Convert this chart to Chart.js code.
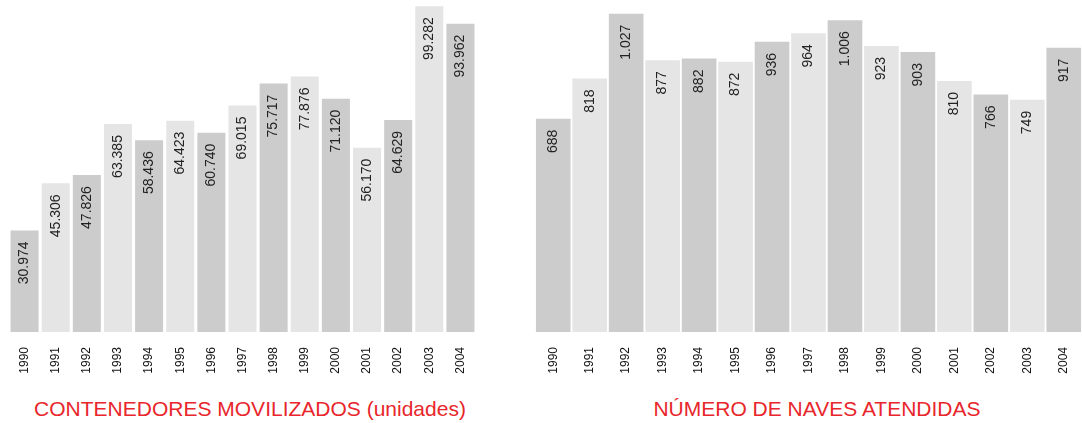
<!DOCTYPE html>
<html>
<head>
<meta charset="utf-8">
<script src="https://cdn.jsdelivr.net/npm/chart.js@4/dist/chart.umd.min.js"></script>
<style>
  html, body { margin: 0; padding: 0; background: #ffffff; overflow: hidden; width: 1082px; height: 423px; }
  .box { position: absolute; top: 0; }
  .title { position: absolute; top: 398px; height: 21px; line-height: 21px; font-family: "Liberation Sans", Arial, sans-serif; font-size: 21px; color: #e8262b; text-align: center; white-space: nowrap; }
</style>
</head>
<body>
<div class="box" style="left:9px;width:467px;height:392px;"><canvas id="c1"></canvas></div>
<div class="box" style="left:535px;width:547px;height:392px;"><canvas id="c2"></canvas></div>
<div class="title" style="left:0px;width:500px;">CONTENEDORES MOVILIZADOS (unidades)</div>
<div class="title" style="left:617px;width:400px;">NÚMERO DE NAVES ATENDIDAS</div>
<script>
const years = ["1990","1991","1992","1993","1994","1995","1996","1997","1998","1999","2000","2001","2002","2003","2004"];
const containers = [30974, 45306, 47826, 63385, 58436, 64423, 60740, 69015, 75717, 77876, 71120, 56170, 64629, 99282, 93962];
const ships = [688, 818, 1027, 877, 882, 872, 936, 964, 1006, 923, 903, 810, 766, 749, 917];
const barColors = ["#cccccc","#e5e5e5","#cccccc","#e5e5e5","#cccccc","#e5e5e5","#cccccc","#e5e5e5","#cccccc","#e5e5e5","#cccccc","#e5e5e5","#cccccc","#e5e5e5","#cccccc"];

function fmt(v) { return String(v).replace(/\B(?=(\d{3})+(?!\d))/g, "."); }

const valueLabels = {
  id: "valueLabels",
  afterDatasetsDraw(chart, args, opts) {
    const ctx = chart.ctx;
    const meta = chart.getDatasetMeta(0);
    const data = chart.data.datasets[0].data;
    ctx.save();
    ctx.fillStyle = "#222222";
    ctx.font = opts.size + "px 'Liberation Sans', Arial, sans-serif";
    ctx.textAlign = "right";
    ctx.textBaseline = "middle";
    meta.data.forEach((bar, i) => {
      ctx.save();
      ctx.translate(bar.x, bar.y + opts.offset);
      ctx.rotate(-Math.PI / 2);
      ctx.fillText(fmt(data[i]), 0, 0);
      ctx.restore();
    });
    ctx.restore();
  }
};

function makeChart(id, values, yMax, barPct, labelSize) {
  return new Chart(document.getElementById(id), {
    type: "bar",
    data: {
      labels: years,
      datasets: [{
        data: values,
        backgroundColor: barColors,
        borderWidth: 0,
        barPercentage: barPct,
        categoryPercentage: 1.0
      }]
    },
    options: {
      responsive: true,
      maintainAspectRatio: false,
      animation: false,
      layout: { padding: 0 },
      plugins: {
        legend: { display: false },
        tooltip: { enabled: false },
        valueLabels: { size: labelSize, offset: 11 }
      },
      scales: {
        x: {
          grid: { display: false, drawTicks: false },
          border: { display: false },
          ticks: {
            autoSkip: false,
            minRotation: 90,
            maxRotation: 90,
            padding: 15,
            color: "#111111",
            font: { family: "'Liberation Sans Narrow', 'Liberation Sans', Arial, sans-serif", size: 12 }
          },
          afterFit(scale) { scale.height = 60; scale.paddingLeft = 0; scale.paddingRight = 0; }
        },
        y: {
          display: false,
          min: 0,
          max: yMax
        }
      }
    },
    plugins: [valueLabels]
  });
}

makeChart("c1", containers, 101200, 0.9, 14);
makeChart("c2", ships, 1071, 0.95, 14);
</script>
</body>
</html>
